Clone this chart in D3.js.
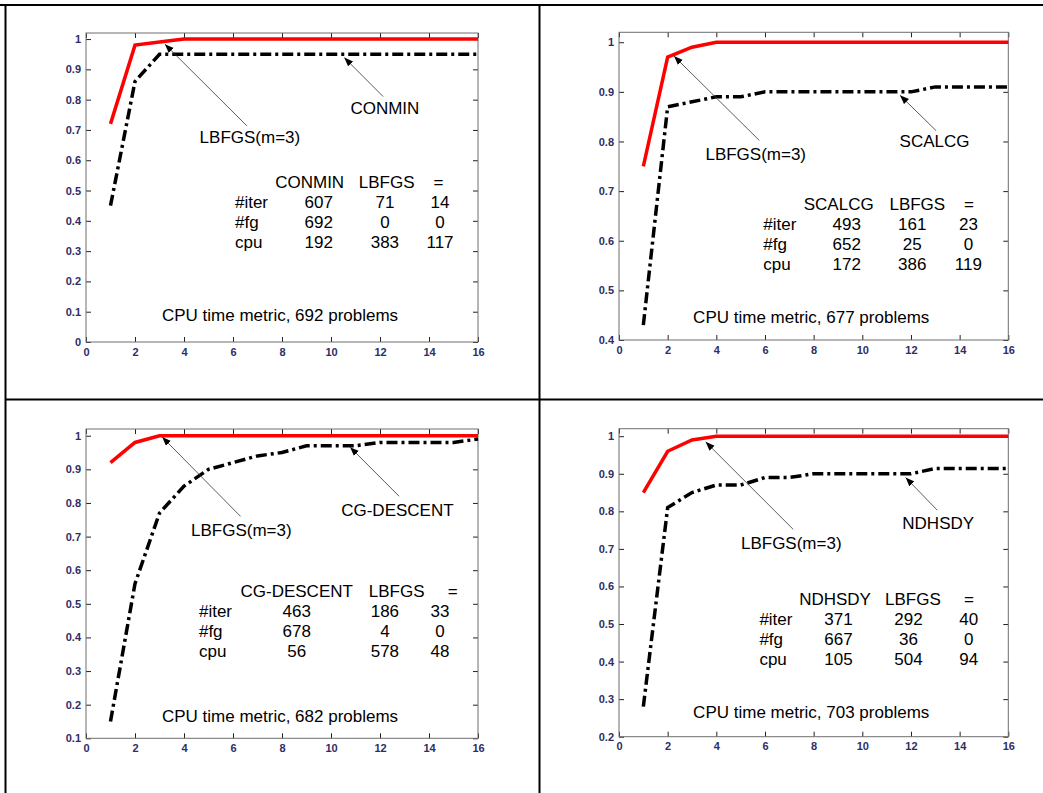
<!DOCTYPE html>
<html>
<head>
<meta charset="utf-8">
<script src="https://cdn.jsdelivr.net/npm/d3@7"></script>
<style>
    body { margin: 0; background: #fff; }
    text { font-family: Arial, "Liberation Sans", sans-serif; }
</style>
</head>
<body>
<svg id="chart"></svg>
<script>
// performance profiles, x = time ratio, y = fraction of problems
const steps = [1, 2, 3, 4, 5, 6, 7, 8, 9, 10, 11, 12, 13, 14, 15, 16]
const xTicks = [0, 2, 4, 6, 8, 10, 12, 14, 16]

const lbfgsVsConmin = [0.72, 0.98, 0.99, 1, 1, 1, 1, 1, 1, 1, 1, 1, 1, 1, 1, 1]
const conmin = [0.45, 0.86, 0.95, 0.95, 0.95, 0.95, 0.95, 0.95, 0.95, 0.95, 0.95, 0.95, 0.95, 0.95, 0.95, 0.95]

const lbfgsVsScalcg = [0.75, 0.97, 0.99, 1, 1, 1, 1, 1, 1, 1, 1, 1, 1, 1, 1, 1]
const scalcg = [0.43, 0.87, 0.88, 0.89, 0.89, 0.90, 0.90, 0.90, 0.90, 0.90, 0.90, 0.90, 0.91, 0.91, 0.91, 0.91]

const lbfgsVsCg = [0.92, 0.98, 1, 1, 1, 1, 1, 1, 1, 1, 1, 1, 1, 1, 1, 1]
const cgDescent = [0.15, 0.56, 0.77, 0.85, 0.90, 0.92, 0.94, 0.95, 0.97, 0.97, 0.97, 0.98, 0.98, 0.98, 0.98, 0.99]

const lbfgsVsNdhsdy = [0.85, 0.96, 0.99, 1, 1, 1, 1, 1, 1, 1, 1, 1, 1, 1, 1, 1]
const ndhsdy = [0.28, 0.81, 0.85, 0.87, 0.87, 0.89, 0.89, 0.90, 0.90, 0.90, 0.90, 0.90, 0.914, 0.914, 0.914, 0.914]

const yTicksConmin = [0, 0.1, 0.2, 0.3, 0.4, 0.5, 0.6, 0.7, 0.8, 0.9, 1]
const yTicksScalcg = [0.4, 0.5, 0.6, 0.7, 0.8, 0.9, 1]
const yTicksCg = [0.1, 0.2, 0.3, 0.4, 0.5, 0.6, 0.7, 0.8, 0.9, 1]
const yTicksNdhsdy = [0.2, 0.3, 0.4, 0.5, 0.6, 0.7, 0.8, 0.9, 1]

const rowNames = ["#iter", "#fg", "cpu"]
const conminTable = [[607, 71, 14], [692, 0, 0], [192, 383, 117]]
const scalcgTable = [[493, 161, 23], [652, 25, 0], [172, 386, 119]]
const cgTable = [[463, 186, 33], [678, 4, 0], [56, 578, 48]]
const ndhsdyTable = [[371, 292, 40], [667, 36, 0], [105, 504, 94]]

const solvers = ["CONMIN", "SCALCG", "CG-DESCENT", "NDHSDY"]
const problemCounts = [692, 677, 682, 703]

// layout of each panel (pixel boxes, annotation anchors in data units)
const panels = [
    {
        box: { left: 86, top: 33, width: 392, height: 309 }, yMin: 0, yTicks: yTicksConmin,
        lbfgs: lbfgsVsConmin, other: conmin, table: conminTable,
        lbfgsLabel: [6.69, 0.656], lbfgsArrow: [[6.56, 0.714], [3.22, 0.983]],
        otherLabel: [12.2, 0.751], otherArrow: [[12.13, 0.81], [10.54, 0.939]],
        tableY: 0.509, rowX: 6.08, headX: [9.13, 12.27, 14.39], valX: [9.5, 12.2, 14.45],
        caption: [7.92, 0.07]
    },
    {
        box: { left: 619, top: 32.3, width: 389.3, height: 307.7 }, yMin: 0.4, yTicks: yTicksScalcg,
        lbfgs: lbfgsVsScalcg, other: scalcg, table: scalcgTable,
        lbfgsLabel: [5.62, 0.762], lbfgsArrow: [[5.77, 0.802], [2.26, 0.972]],
        otherLabel: [12.97, 0.788], otherArrow: [[13.03, 0.822], [11.55, 0.893]],
        tableY: 0.662, rowX: 5.93, headX: [9.03, 12.26, 14.38], valX: [9.36, 12.05, 14.36],
        caption: [7.9, 0.435]
    },
    {
        box: { left: 86, top: 429, width: 392, height: 309.3 }, yMin: 0.1, yTicks: yTicksCg,
        lbfgs: lbfgsVsCg, other: cgDescent, table: cgTable,
        lbfgsLabel: [6.34, 0.702], lbfgsArrow: [[6.31, 0.76], [3.11, 0.996]],
        otherLabel: [12.71, 0.761], otherArrow: [[12.78, 0.82], [10.78, 0.966]],
        tableY: 0.521, rowX: 4.61, headX: [8.6, 12.68, 14.97], valX: [8.6, 12.2, 14.45],
        caption: [7.92, 0.1475]
    },
    {
        box: { left: 619, top: 428.7, width: 389.3, height: 308 }, yMin: 0.2, yTicks: yTicksNdhsdy,
        lbfgs: lbfgsVsNdhsdy, other: ndhsdy, table: ndhsdyTable,
        lbfgsLabel: [7.08, 0.699], lbfgsArrow: [[7.16, 0.752], [3.56, 0.985]],
        otherLabel: [13.12, 0.754], otherArrow: [[13.08, 0.803], [11.78, 0.89]],
        tableY: 0.55, rowX: 5.77, headX: [8.88, 12.08, 14.38], valX: [9.02, 11.9, 14.37],
        caption: [7.9, 0.2505]
    }
]

const width = 1043, height = 793

const svg = d3.select("#chart")
    .attr("width", width)
    .attr("height", height)

svg.append("rect")
    .attr("width", width).attr("height", height)
    .attr("fill", "#fff")

svg.append("defs").append("marker")
    .attr("id", "head")
    .attr("markerUnits", "userSpaceOnUse")
    .attr("markerWidth", 10).attr("markerHeight", 8)
    .attr("refX", 9).attr("refY", 3.5)
    .attr("orient", "auto")
    .append("path")
    .attr("d", "M0,0L9,3.5L0,7Z")
    .attr("fill", "#000")

// table frame of the page
const frame = [
    [0, 5, width, 5],
    [5.5, 4, 5.5, height],
    [539.5, 4, 539.5, height],
    [5.5, 399.5, width, 399.5]
]
svg.append("g")
    .selectAll("line")
    .data(frame)
    .join("line")
    .attr("x1", d => d[0]).attr("y1", d => d[1])
    .attr("x2", d => d[2]).attr("y2", d => d[3])
    .attr("stroke", "#000")
    .attr("stroke-width", 2)

panels.forEach((p, i) => {
    const b = p.box

    const x = d3.scaleLinear()
        .domain([0, 16])
        .range([b.left, b.left + b.width])

    const y = d3.scaleLinear()
        .domain([p.yMin, 1.02])
        .range([b.top + b.height, b.top])

    const g = svg.append("g")

    const tickStyle = ax => {
        ax.select(".domain").remove()
        ax.attr("font-size", 11)
        ax.selectAll(".tick line").attr("stroke", "#222")
        ax.selectAll(".tick text")
            .attr("fill", "#2d2d68")
            .attr("font-size", 11)
            .attr("font-weight", "bold")
            .attr("font-family", "Arial, 'Liberation Sans', sans-serif")
    }

    g.append("g")
        .attr("transform", `translate(0,${b.top + b.height})`)
        .call(d3.axisBottom(x).tickValues(xTicks).tickSize(-5).tickPadding(6).tickFormat(d3.format("")))
        .call(tickStyle)

    g.append("g")
        .attr("transform", `translate(0,${b.top})`)
        .call(d3.axisTop(x).tickValues(xTicks).tickSize(-5).tickFormat(""))
        .call(tickStyle)

    g.append("g")
        .attr("transform", `translate(${b.left},0)`)
        .call(d3.axisLeft(y).tickValues(p.yTicks).tickSize(-5).tickPadding(5).tickFormat(d3.format("")))
        .call(tickStyle)

    g.append("g")
        .attr("transform", `translate(${b.left + b.width},0)`)
        .call(d3.axisRight(y).tickValues(p.yTicks).tickSize(-5).tickFormat(""))
        .call(tickStyle)

    g.append("rect")
        .attr("x", b.left).attr("y", b.top)
        .attr("width", b.width).attr("height", b.height)
        .attr("fill", "none")
        .attr("stroke", "#6e6e6e")
        .attr("stroke-width", 1)

    const line = d3.line()
        .x((d, j) => x(steps[j]))
        .y(d => y(d))

    g.append("path")
        .datum(p.other)
        .attr("d", line)
        .attr("fill", "none")
        .attr("stroke", "#000")
        .attr("stroke-width", 3.5)
        .attr("stroke-dasharray", "11,4,3,4")

    g.append("path")
        .datum(p.lbfgs)
        .attr("d", line)
        .attr("fill", "none")
        .attr("stroke", "#ff0000")
        .attr("stroke-width", 3.5)

    // arrows and labels
    const arrows = [p.lbfgsArrow, p.otherArrow]
    g.selectAll(".arrow")
        .data(arrows)
        .join("line")
        .attr("class", "arrow")
        .attr("x1", d => x(d[0][0])).attr("y1", d => y(d[0][1]))
        .attr("x2", d => x(d[1][0])).attr("y2", d => y(d[1][1]))
        .attr("stroke", "#333")
        .attr("stroke-width", 0.8)
        .attr("marker-end", "url(#head)")

    const labels = [
        { pos: p.lbfgsLabel, text: "LBFGS(m=3)" },
        { pos: p.otherLabel, text: solvers[i] },
        { pos: p.caption, text: `CPU time metric, ${problemCounts[i]} problems` }
    ]
    g.selectAll(".label")
        .data(labels)
        .join("text")
        .attr("class", "label")
        .attr("x", d => x(d.pos[0]))
        .attr("y", d => y(d.pos[1]))
        .attr("text-anchor", "middle")
        .attr("font-size", 17)
        .text(d => d.text)

    // summary table
    const ty = y(p.tableY)
    const header = [solvers[i], "LBFGS", "="]
    g.selectAll(".head")
        .data(header)
        .join("text")
        .attr("class", "head")
        .attr("x", (d, j) => x(p.headX[j]))
        .attr("y", ty)
        .attr("text-anchor", "middle")
        .attr("font-size", 17)
        .text(d => d)

    p.table.forEach((row, r) => {
        const ry = ty + 20 * (r + 1)
        g.append("text")
            .attr("x", x(p.rowX))
            .attr("y", ry)
            .attr("font-size", 17)
            .text(rowNames[r])
        g.selectAll(`.cell${r}`)
            .data(row)
            .join("text")
            .attr("class", `cell${r}`)
            .attr("x", (d, j) => x(p.valX[j]))
            .attr("y", ry)
            .attr("text-anchor", "middle")
            .attr("font-size", 17)
            .text(d => d)
    })
})
</script>
</body>
</html>
